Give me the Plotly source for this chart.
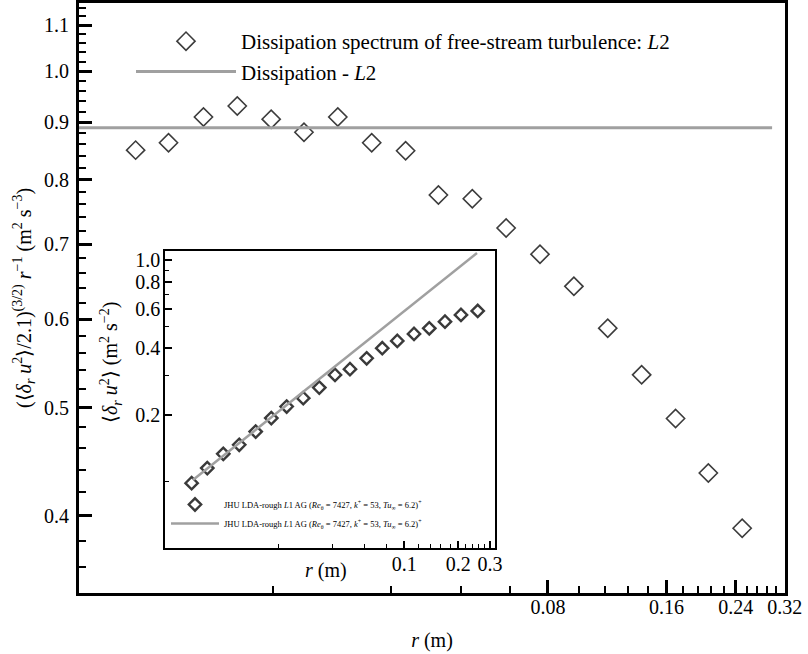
import math
import plotly.graph_objects as go

# ---------------- data ----------------
# main panel: dissipation spectrum of free-stream turbulence (L2)
r_main = [0.00716, 0.00868, 0.01065, 0.01298, 0.01583, 0.01918, 0.02338, 0.02851,
          0.03477, 0.04213, 0.05137, 0.06262, 0.07634, 0.09309, 0.1135, 0.1384,
          0.1688, 0.2045, 0.2493]
eps_spectrum = [0.850, 0.863, 0.910, 0.931, 0.906, 0.882, 0.910, 0.863, 0.849,
                0.775, 0.769, 0.724, 0.686, 0.642, 0.589, 0.535, 0.489, 0.437, 0.390]
# main panel: dissipation level (L2)
r_dissipation = [0.005, 0.297]
eps_dissipation = [0.89, 0.89]

# inset: second-order structure function, JHU LDA-rough L1 AG
r_inset = [0.00653, 0.00798, 0.00980, 0.01203, 0.01485, 0.01815, 0.02211, 0.02735,
           0.03360, 0.04111, 0.04982, 0.06172, 0.07538, 0.09141, 0.1133, 0.1378,
           0.1686, 0.2070, 0.2566]
du2_inset = [0.0986, 0.1153, 0.1337, 0.1469, 0.1685, 0.1937, 0.2185, 0.2383, 0.2660,
             0.3034, 0.3220, 0.3606, 0.4002, 0.4316, 0.4643, 0.4922, 0.5272, 0.5653, 0.5892]
r_inset_line = [0.00664, 0.2542]
du2_inset_line = [0.1019, 1.075]

# tick labels
main_x_tickvals = [0.08, 0.16, 0.24, 0.32]
main_x_ticktext = ["0.08", "0.16", "0.24", "0.32"]
main_y_tickvals = [0.4, 0.5, 0.6, 0.7, 0.8, 0.9, 1.0, 1.1]
main_y_ticktext = ["0.4", "0.5", "0.6", "0.7", "0.8", "0.9", "1.0", "1.1"]
inset_x_tickvals = [0.1, 0.2, 0.3]
inset_x_ticktext = ["0.1", "0.2", "0.3"]
inset_y_tickvals = [0.2, 0.4, 0.6, 0.8, 1.0]
inset_y_ticktext = ["0.2", "0.4", "0.6", "0.8", "1.0"]

# minor tick positions
main_x_minor = [round(0.016 * k, 3) for k in range(1, 21) if k % 5 != 0]
main_y_minor = [round(0.02 * k, 2) for k in range(17, 58) if k % 5 != 0]
inset_x_minor = [round(0.02 * k, 2) for k in range(1, 15) if k % 5 != 0]
inset_y_minor = [0.1, 0.3, 0.5, 0.7, 0.9]

FONT = "Liberation Serif, Times New Roman, serif"
W, H = 808, 654
ML, MR, MT, MB = 79, 23, 3, 61
PW, PH = W - ML - MR, H - MT - MB


def px_x(p):
    return (p - ML) / PW


def px_y(p):
    return (H - MB - p) / PH


fig = go.Figure()

fig.add_trace(go.Scatter(
    x=r_main, y=eps_spectrum, mode="markers",
    name="Dissipation spectrum of free-stream turbulence: <i>L</i>2",
    marker=dict(symbol="diamond-open", size=14, color="#3c3c3c", line=dict(width=1.6)),
    xaxis="x", yaxis="y", legend="legend",
))
fig.add_trace(go.Scatter(
    x=r_dissipation, y=eps_dissipation, mode="lines",
    name="Dissipation - <i>L</i>2",
    line=dict(color="#a0a0a0", width=3),
    xaxis="x", yaxis="y", legend="legend",
))

lab = ("JHU LDA-rough <i>L</i>1 AG (<i>Re</i><sub>θ</sub> = 7427, <i>k</i><sup>+</sup> = 53, "
       "<i>Tu</i><sub>∞</sub> = 6.2)<sup>+</sup>")
fig.add_trace(go.Scatter(
    x=r_inset, y=du2_inset, mode="markers", name=lab,
    marker=dict(symbol="diamond-open", size=9.5, color="#3a3a3a", line=dict(width=2.4)),
    xaxis="x2", yaxis="y2", legend="legend2",
))
fig.add_trace(go.Scatter(
    x=r_inset_line, y=du2_inset_line, mode="lines", name=lab,
    line=dict(color="#a0a0a0", width=2.5),
    xaxis="x2", yaxis="y2", legend="legend2",
))

axis_common = dict(showgrid=False, zeroline=False, showline=True, linecolor="black",
                   mirror=True, ticks="inside", tickcolor="black", automargin=False,
                   tickfont=dict(family=FONT, size=20, color="black"), type="log")

fig.update_layout(
    width=W, height=H,
    margin=dict(l=ML, r=MR, t=MT, b=MB, autoexpand=False),
    paper_bgcolor="white", plot_bgcolor="white",
    font=dict(family=FONT, color="black"),
    xaxis=dict(
        **axis_common, domain=[0, 1], anchor="y",
        range=[math.log10(0.00514), math.log10(0.3203)],
        linewidth=3, ticklen=13, tickwidth=3,
        tickmode="array", tickvals=main_x_tickvals, ticktext=main_x_ticktext,
        ticklabelstandoff=-6,
        minor=dict(tickmode="array", tickvals=main_x_minor, ticks="inside",
                   ticklen=7, tickwidth=1.5, tickcolor="black", showgrid=False),
        title=dict(text="<i>r</i> (m)", font=dict(family=FONT, size=20), standoff=16),
    ),
    yaxis=dict(
        **axis_common, domain=[0, 1], anchor="x",
        range=[math.log10(0.3413), math.log10(1.151)],
        linewidth=3, ticklen=13, tickwidth=3,
        tickmode="array", tickvals=main_y_tickvals, ticktext=main_y_ticktext,
        ticklabelstandoff=3,
        minor=dict(tickmode="array", tickvals=main_y_minor, ticks="inside",
                   ticklen=7, tickwidth=1.5, tickcolor="black", showgrid=False),
        title=dict(text="(⟨<i>δ<sub>r</sub> u</i><sup>2</sup>⟩/2.1)<sup>(3/2)</sup> "
                        "<i>r</i><sup>−1</sup> (m<sup>2</sup> s<sup>−3</sup>)",
                   font=dict(family=FONT, size=20), standoff=8),
    ),
    xaxis2=dict(
        **axis_common, domain=[px_x(165), px_x(495)], anchor="y2",
        range=[math.log10(0.00464), math.log10(0.3203)],
        linewidth=1.5, ticklen=7, tickwidth=1.5,
        tickmode="array", tickvals=inset_x_tickvals, ticktext=inset_x_ticktext,
        ticklabelstandoff=-3,
        minor=dict(tickmode="array", tickvals=inset_x_minor, ticks="inside",
                   ticklen=4, tickwidth=1, tickcolor="black", showgrid=False),
    ),
    yaxis2=dict(
        **axis_common, domain=[px_y(548), px_y(251)], anchor="x2",
        range=[math.log10(0.0503), math.log10(1.098)],
        linewidth=1.5, ticklen=7, tickwidth=1.5,
        tickmode="array", tickvals=inset_y_tickvals, ticktext=inset_y_ticktext,
        ticklabelstandoff=-1,
        minor=dict(tickmode="array", tickvals=inset_y_minor, ticks="inside",
                   ticklen=4, tickwidth=1, tickcolor="black", showgrid=False),
    ),
    legend=dict(x=px_x(131), y=px_y(21), xanchor="left", yanchor="top",
                bgcolor="rgba(0,0,0,0)", borderwidth=0, itemwidth=100,
                font=dict(family=FONT, size=21, color="black"), tracegroupgap=0),
    legend2=dict(x=px_x(166), y=px_y(490), xanchor="left", yanchor="top",
                 bgcolor="rgba(0,0,0,0)", borderwidth=0, itemwidth=48,
                 font=dict(family=FONT, size=8.5, color="black"), tracegroupgap=0),
    annotations=[
        dict(text="⟨<i>δ<sub>r</sub> u</i><sup>2</sup>⟩ (m<sup>2</sup> s<sup>−2</sup>)",
             xref="paper", yref="paper", x=px_x(111), y=px_y(363),
             xanchor="center", yanchor="middle", textangle=-90, showarrow=False,
             font=dict(family=FONT, size=20, color="black")),
        dict(text="<i>r</i> (m)",
             xref="paper", yref="paper", x=px_x(326), y=px_y(570),
             xanchor="center", yanchor="middle", showarrow=False,
             font=dict(family=FONT, size=20, color="black")),
    ],
)

fig.write_html("out.html", config={"displayModeBar": False},
               post_script="document.body.style.margin='0';")
